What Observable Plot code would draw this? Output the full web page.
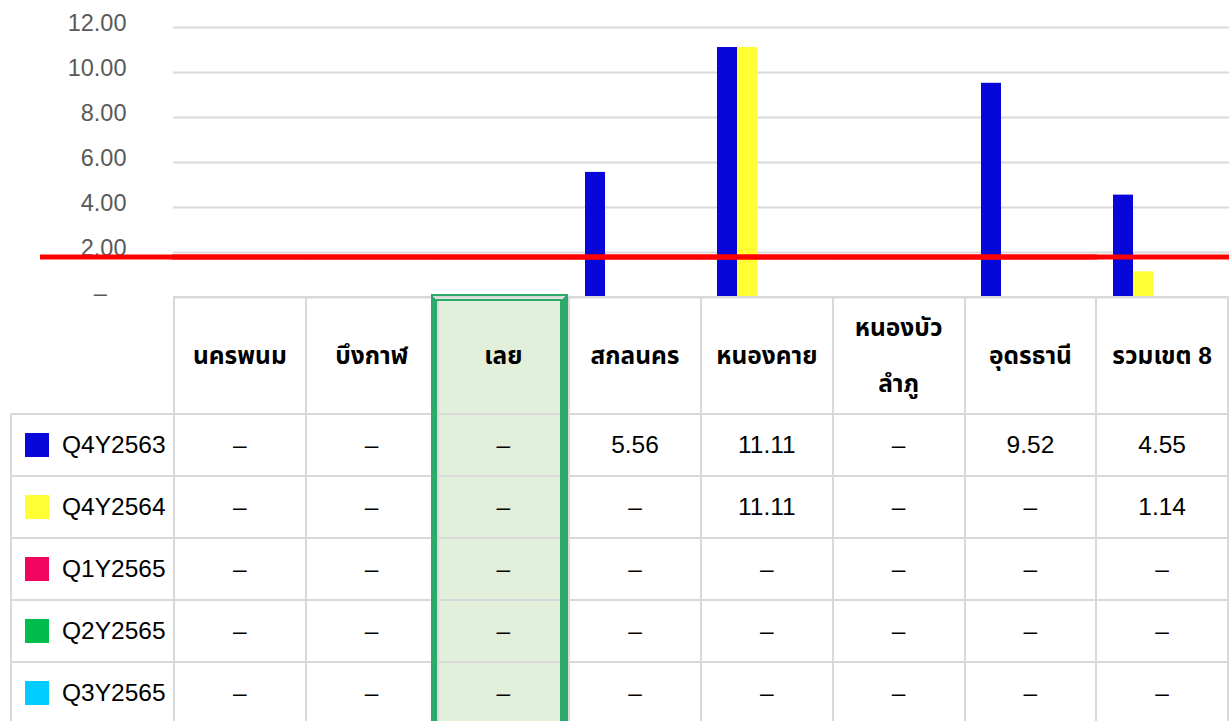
<!DOCTYPE html>
<html>
<head>
<meta charset="utf-8">
<script src="https://cdn.jsdelivr.net/npm/d3@7"></script>
<script src="https://cdn.jsdelivr.net/npm/@observablehq/plot@0.6"></script>
<style>
  html, body { margin: 0; padding: 0; background: #fff; }
  #wrap { position: relative; width: 1229px; height: 721px; overflow: hidden; background: #fff;
    font-family: "Liberation Sans", "Noto Sans Thai", "Noto Sans", Arial, sans-serif; }
  #chart { position: absolute; left: 0; top: 0; }
  table.dt { position: absolute; left: 10px; top: 296px; border-collapse: collapse; table-layout: fixed;
    border: none; color: #000; }
  table.dt td, table.dt th { border: 2px solid #d9d9d9; text-align: center; vertical-align: middle; padding: 0; }
  table.dt th { font-weight: bold; font-size: 24.5px; line-height: 56px; height: 115px; }
  table.dt td { font-size: 24.5px; height: 60px; }
  table.dt th.blank { border-top: none; border-left: none; }
  table.dt td.lab { text-align: left; padding-left: 13px; white-space: nowrap; }
  .sw { display: inline-block; width: 24px; height: 24px; vertical-align: -4px; margin-right: 13px; }
  .hl { background: #E2EFDA; }
  #hlbox { position: absolute; left: 431px; top: 294px; width: 137px; height: 440px; box-sizing: border-box;
    border-left: 6px solid #2BAA6B; border-right: 8px solid #2BAA6B; border-top: 7px double #2BAA6B; pointer-events: none; }
</style>
</head>
<body>
<div id="wrap">
  <div id="chart"></div>
  <div id="table"></div>
  <div id="hlbox"></div>
</div>
<script>
// ---- data ----
const categories = ["นครพนม", "บึงกาฬ", "เลย", "สกลนคร", "หนองคาย", "หนองบัวลำภู", "อุดรธานี", "รวมเขต 8"];
const series = ["Q4Y2563", "Q4Y2564", "Q1Y2565", "Q2Y2565", "Q3Y2565"];
const seriesColors = ["#0707D9", "#FFFF33", "#F20561", "#00BD4E", "#00CCFF"];
const q4y2563 = [null, null, null, 5.56, 11.11, null, 9.52, 4.55];
const q4y2564 = [null, null, null, null, 11.11, null, null, 1.14];
const q1y2565 = [null, null, null, null, null, null, null, null];
const q2y2565 = [null, null, null, null, null, null, null, null];
const q3y2565 = [null, null, null, null, null, null, null, null];
const seriesValues = [q4y2563, q4y2564, q1y2565, q2y2565, q3y2565];
const target = 1.8;
const yTicks = [0, 2, 4, 6, 8, 10, 12];
const highlighted = "เลย";

// ---- tidy rows (nulls kept so that every category gets its facet) ----
const rows = [];
series.forEach((s, i) => categories.forEach((c, j) => {
  rows.push({category: c, series: s, value: seriesValues[i][j]});
}));

const fmt = v => v == null ? "–" : v.toFixed(2);

const chart = Plot.plot({
  width: 1229,
  height: 298,
  marginLeft: 173,
  marginRight: 0,
  marginTop: 27,
  marginBottom: 1,
  style: {fontFamily: "'Liberation Sans', Arial, sans-serif", fontSize: "23.5px", color: "#595959", background: "transparent", overflow: "visible"},
  fx: {domain: categories, padding: 0, axis: null},
  x: {domain: series, paddingInner: 0, paddingOuter: 0.8, axis: null},
  y: {domain: [0, 12], axis: null},
  color: {domain: series, range: seriesColors},
  marks: [
    Plot.gridY(yTicks, {stroke: "#d9d9d9", strokeOpacity: 1, strokeWidth: 2}),
    Plot.axisY(yTicks, {tickSize: 0, tickPadding: 47, dy: -4, label: null,
      tickFormat: d => d === 0 ? "–\u00a0\u00a0\u00a0" : d.toFixed(2)}),
    Plot.barY(rows, {fx: "category", x: "series", y: "value", fill: "series"}),
    Plot.ruleY([target], {stroke: "#FF0000", strokeWidth: 5, insetLeft: -133})
  ]
});
document.getElementById("chart").appendChild(chart);

// ---- data table ----
let html = '<table class="dt"><colgroup><col style="width:163px">' +
  categories.map(() => '<col style="width:132px">').join("") + '</colgroup>';
html += '<tr><th class="blank"></th>' + categories.map(c =>
  `<th class="${c === highlighted ? "hl" : ""}">${c === "หนองบัวลำภู" ? "หนองบัว<br>ลำภู" : c}</th>`).join("") + '</tr>';
series.forEach((s, i) => {
  html += `<tr><td class="lab"><span class="sw" style="background:${seriesColors[i]}"></span>${s}</td>` +
    categories.map((c, j) => `<td class="${c === highlighted ? "hl" : ""}">${fmt(seriesValues[i][j])}</td>`).join("") + '</tr>';
});
html += '</table>';
document.getElementById("table").innerHTML = html;
</script>
</body>
</html>
